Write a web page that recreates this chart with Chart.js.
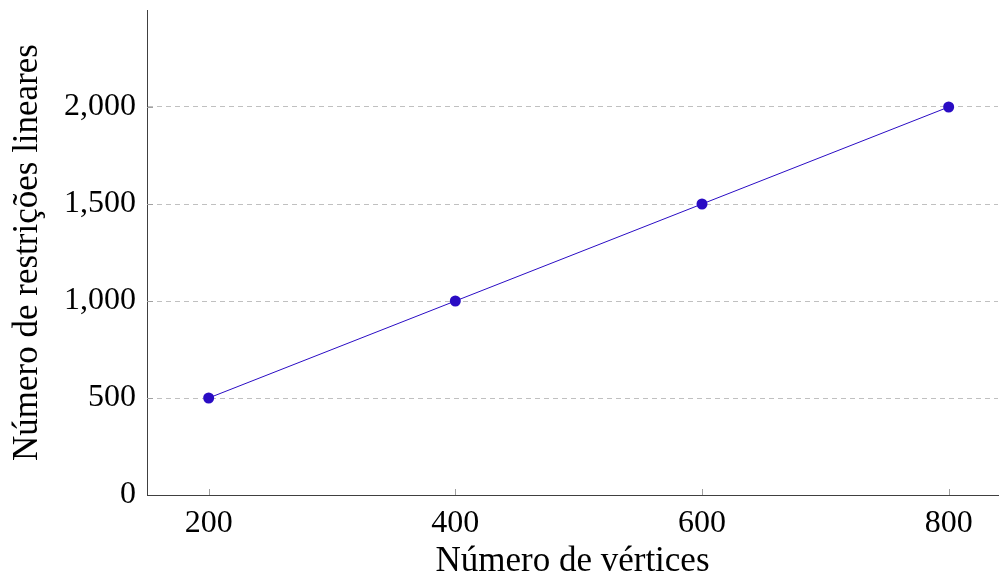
<!DOCTYPE html>
<html>
<head>
<meta charset="utf-8">
<script src="https://cdn.jsdelivr.net/npm/chart.js@4.4.1/dist/chart.umd.min.js"></script>
<style>
  html, body { margin: 0; padding: 0; background: #fff; }
  #wrap { width: 1000px; height: 579px; }
</style>
</head>
<body>
<div id="wrap"><canvas id="c"></canvas></div>
<script>
// Vertices vs. number of linear constraints
const vertices = [200, 400, 600, 800];
const constraints = [500, 1000, 1500, 2000];
const xTicks = [200, 400, 600, 800];
const yTicks = [0, 500, 1000, 1500, 2000];

const serif = "'Liberation Serif', 'DejaVu Serif', serif";
const markColor = '#2a0cc4';

// Short tick marks drawn inward from the axes
const innerTicks = {
  id: 'innerTicks',
  afterDatasetsDraw(chart) {
    const { ctx, chartArea, scales } = chart;
    ctx.save();
    ctx.strokeStyle = '#a0a0a0';
    ctx.lineWidth = 1;
    ctx.beginPath();
    xTicks.forEach(v => {
      const px = Math.round(scales.x.getPixelForValue(v)) + 0.5;
      ctx.moveTo(px, chartArea.bottom);
      ctx.lineTo(px, chartArea.bottom - 6);
    });
    yTicks.forEach(v => {
      if (v === 0) return;
      const py = Math.round(scales.y.getPixelForValue(v)) + 0.5;
      ctx.moveTo(chartArea.left, py);
      ctx.lineTo(chartArea.left + 6, py);
    });
    ctx.stroke();
    ctx.restore();
  }
};

new Chart(document.getElementById('c'), {
  type: 'line',
  data: {
    datasets: [{
      data: vertices.map((v, i) => ({ x: v, y: constraints[i] })),
      borderColor: markColor,
      backgroundColor: markColor,
      borderWidth: 1,
      pointRadius: 5.5,
      pointHoverRadius: 5.5,
      pointBorderWidth: 0,
      tension: 0
    }]
  },
  options: {
    responsive: true,
    maintainAspectRatio: false,
    animation: false,
    layout: { autoPadding: false, padding: { top: 10, right: 2, left: 0, bottom: 0 } },
    plugins: { legend: { display: false }, tooltip: { enabled: false } },
    scales: {
      x: {
        type: 'linear',
        min: 150,
        max: 840,
        afterBuildTicks: s => { s.ticks = xTicks.map(v => ({ value: v })); },
        afterFit: s => { s.height = 84; s.paddingLeft = 0; s.paddingRight = 0; },
        grid: { display: true, color: 'rgba(0,0,0,0)', drawTicks: false },
        border: { display: true, color: '#404040', width: 1 },
        ticks: {
          padding: 9,
          color: '#000',
          font: { family: serif, size: 32 },
          callback: v => String(v)
        },
        title: {
          display: true,
          text: 'Número de vértices',
          color: '#000',
          font: { family: serif, size: 35, lineHeight: 1 },
          padding: { top: 0, bottom: 0 }
        }
      },
      y: {
        type: 'linear',
        min: 0,
        max: 2500,
        afterBuildTicks: s => { s.ticks = yTicks.map(v => ({ value: v })); },
        afterFit: s => { s.width = 147; s.paddingTop = 0; s.paddingBottom = 0; },
        grid: {
          drawTicks: false,
          color: ctx => (ctx.tick && ctx.tick.value === 0) ? 'rgba(0,0,0,0)' : '#c0c0c0',
          lineWidth: 1
        },
        border: { display: true, color: '#404040', width: 1, dash: [5, 4] },
        ticks: {
          padding: 11,
          color: '#000',
          font: { family: serif, size: 32 },
          callback: v => v.toLocaleString('en-US')
        },
        title: {
          display: true,
          text: 'Número de restrições lineares',
          color: '#000',
          font: { family: serif, size: 35, lineHeight: 1 },
          padding: { top: 10, bottom: 0 }
        }
      }
    }
  },
  plugins: [innerTicks]
});
</script>
</body>
</html>
